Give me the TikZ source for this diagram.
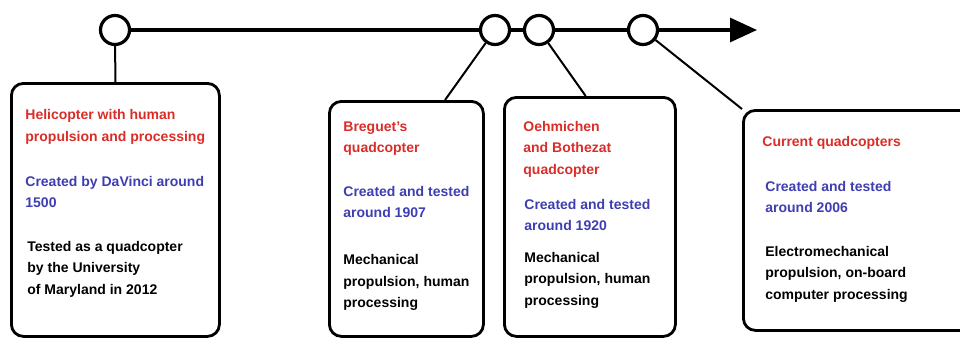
\documentclass[tikz,border=0pt]{standalone}
\usepackage{fontspec}
\setmainfont{Liberation Sans}
\usetikzlibrary{arrows.meta}
\definecolor{histred}{RGB}{218,45,40}
\definecolor{histblue}{RGB}{62,62,178}

\begin{document}
\begin{tikzpicture}[x=0.5pt,y=-0.5pt,
    event/.style={draw,circle,line width=1.6pt,fill=white,minimum size=14.5pt,inner sep=0pt},
    card/.style={draw,line width=1.4pt,rounded corners=6pt,anchor=north west,inner sep=0pt},
    txt/.style={anchor=west,align=left,inner sep=0pt,font=\bfseries\fontsize{7}{10.75}\selectfont},
    link/.style={line width=1pt}]
  \useasboundingbox (0,0) rectangle (960,338);

  % timeline
  \node[event] (c1) at (115,30) {};
  \node[event] (c2) at (495,30) {};
  \node[event] (c3) at (539,30) {};
  \node[event] (c4) at (643,30) {};
  \coordinate (tip) at (757,30);
  \draw[line width=1.6pt] (c1) -- (c2) (c2) -- (c3) (c3) -- (c4);
  \draw[line width=1.6pt,-{Triangle[length=13.5pt,width=12pt]}] (c4) -- (tip);

  % cards
  \node[card,minimum width=104pt,minimum height=126.5pt] (b1) at (10,82) {};
  \node[card,minimum width=77pt,minimum height=117.5pt] (b2) at (328,100) {};
  \node[card,minimum width=85.5pt,minimum height=119.5pt] (b3) at (503,96) {};
  \node[card,minimum width=118pt,minimum height=110pt] (b4) at (742,109) {};

  \draw[link] (c1) -- (b1.north);
  \draw[link] (c2) -- (b2.72.5);
  \draw[link] (c3) -- (b3.92.2);
  \draw[link] (c4) -- (b4.north west);

  % texts
  \node[txt,histred] (t1a) at (25,127) {Helicopter with human\\propulsion and processing};
  \node[txt,histblue] (t1b) at (25,192) {Created by DaVinci around\\1500};
  \node[txt] (t1c) at (27,269) {Tested as a quadcopter\\by the University\\of Maryland in 2012};

  \node[txt,histred] (t2a) at (343,138.5) {Breguet's\\quadcopter};
  \node[txt,histblue] (t2b) at (343,202) {Created and tested\\around 1907};
  \node[txt] (t2c) at (343,282.5) {Mechanical\\propulsion, human\\processing};

  \node[txt,histred] (t3a) at (523,149) {Oehmichen\\and Bothezat\\quadcopter};
  \node[txt,histblue] (t3b) at (524,215) {Created and tested\\around 1920};
  \node[txt] (t3c) at (524,280) {Mechanical\\propulsion, human\\processing};

  \node[txt,histred] (t4a) at (762,143) {Current quadcopters};
  \node[txt,histblue] (t4b) at (765,197) {Created and tested\\around 2006};
  \node[txt] (t4c) at (765,274) {Electromechanical\\propulsion, on-board\\computer processing};
\end{tikzpicture}
\end{document}
